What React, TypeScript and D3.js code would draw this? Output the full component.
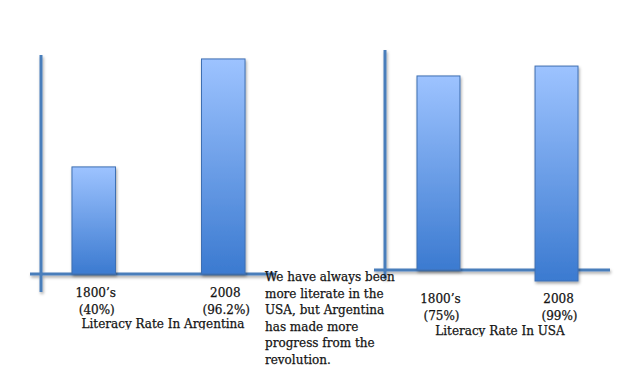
import * as d3 from "d3";

const WIDTH = 640;
const HEIGHT = 370;

// shared categories
const periods = ["1800’s", "2008"];

// Argentina: reported rates and the bar heights as drawn (percent of axis height)
const argentinaRates = ["40%", "96.2%"];
const argentinaBarTop = [48.9, 98.2];
const argentinaBarBase = [0, 0];

// USA
const usaRates = ["75%", "99%"];
const usaBarTop = [88.2, 92.7];
const usaBarBase = [0, -5];

const noteLines = [
  "We have always been",
  "more literate in the",
  "USA, but Argentina",
  "has made more",
  "progress from the",
  "revolution.",
];

const FONT = "'DejaVu Serif', serif";
const AXIS_COLOR = "#4a7ebb";
const INK = "#141414";

type ChartProps = {
  id: string;
  title: string;
  rates: string[];
  tops: number[];
  bases: number[];
  left: number;
  right: number;
  top: number;
  bottom: number;
  xStart: number;
  yEnd: number;
  padInner: number;
  padOuter: number;
  labelY: number;
  titleX: number;
  titleY: number;
};

const BarChart = (p: ChartProps) => {
  const x = d3
    .scaleBand()
    .domain(periods)
    .range([p.left, p.right])
    .paddingInner(p.padInner)
    .paddingOuter(p.padOuter);
  const y = d3.scaleLinear().domain([0, 100]).range([p.bottom, p.top]);
  const mid = (d: string) => (x(d) ?? 0) + x.bandwidth() / 2;

  return (
    <g>
      <g stroke={AXIS_COLOR} strokeWidth={3} filter="url(#shadow)">
        <line x1={p.left} x2={p.left} y1={p.top} y2={p.yEnd} />
        <line x1={p.xStart} x2={p.right} y1={p.bottom} y2={p.bottom} />
      </g>
      {periods.map((d, i) => (
        <rect
          key={d}
          x={x(d)}
          width={x.bandwidth()}
          y={y(p.tops[i])}
          height={y(p.bases[i]) - y(p.tops[i])}
          fill="url(#barGrad)"
          stroke="#3f6fb2"
          strokeWidth={1}
          filter="url(#shadow)"
        />
      ))}
      <g
        fontFamily={FONT}
        fontSize={12}
        fill={INK}
        stroke={INK}
        strokeWidth={0.25}
        textAnchor="middle"
      >
        {periods.map((d, i) => (
          <text key={d} y={p.labelY}>
            <tspan x={mid(d) + 2}>{d}</tspan>
            <tspan x={mid(d) + 3} dy={16.5}>
              ({p.rates[i]})
            </tspan>
          </text>
        ))}
        <clipPath id={`clip-${p.id}`}>
          <rect x={0} y={p.titleY - 20} width={WIDTH} height={21.5} />
        </clipPath>
        <text x={p.titleX} y={p.titleY} clipPath={`url(#clip-${p.id})`}>
          {p.title}
        </text>
      </g>
    </g>
  );
};

export default function App() {
  return (
    <svg
      width={WIDTH}
      height={HEIGHT}
      style={{ position: "absolute", left: 0, top: 0, background: "#fff" }}
    >
      <defs>
        <linearGradient id="barGrad" x1="0" y1="0" x2="0" y2="1">
          <stop offset="0%" stopColor="#9dc3ff" />
          <stop offset="100%" stopColor="#3b7ad0" />
        </linearGradient>
        <filter id="shadow" x="-20%" y="-20%" width="140%" height="140%">
          <feDropShadow dx={1} dy={2} stdDeviation={1.5} floodColor="#000" floodOpacity={0.35} />
        </filter>
      </defs>
      <BarChart
        id="arg"
        title="Literacy Rate In Argentina"
        rates={argentinaRates}
        tops={argentinaBarTop}
        bases={argentinaBarBase}
        left={41}
        right={276}
        top={55}
        bottom={274}
        xStart={30}
        yEnd={292}
        padInner={0.664}
        padOuter={0.239}
        labelY={297}
        titleX={163}
        titleY={328}
      />
      <BarChart
        id="usa"
        title="Literacy Rate In USA"
        rates={usaRates}
        tops={usaBarTop}
        bases={usaBarBase}
        left={385}
        right={610}
        top={50}
        bottom={270}
        xStart={374}
        yEnd={279}
        padInner={0.636}
        padOuter={0.271}
        labelY={303}
        titleX={500}
        titleY={335}
      />
      <text fontFamily={FONT} fontSize={12} fill={INK} stroke={INK} strokeWidth={0.25}>
        {noteLines.map((line, i) => (
          <tspan key={i} x={265} y={281 + i * 16.6}>
            {line}
          </tspan>
        ))}
      </text>
    </svg>
  );
}
